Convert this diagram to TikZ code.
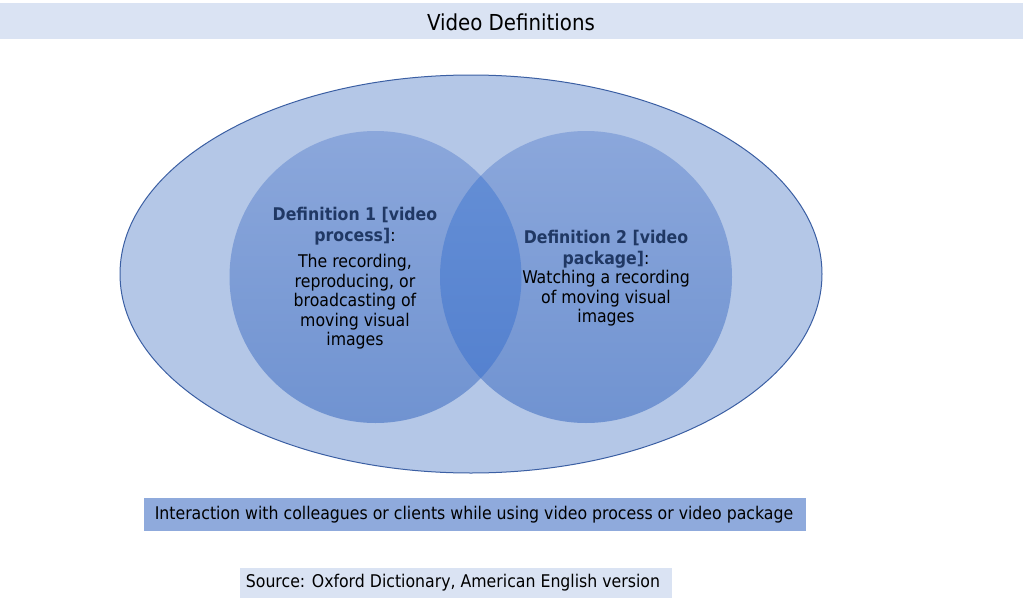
\documentclass[tikz,border=0pt]{standalone}
\usepackage{fontspec}
\setmainfont{DejaVu Sans Condensed}
\usetikzlibrary{shapes.geometric}
\definecolor{barlight}{HTML}{DAE3F3}
\definecolor{barmid}{HTML}{8FAADC}
\definecolor{ellfill}{HTML}{B4C7E7}
\definecolor{elldraw}{HTML}{3B5FA3}
\definecolor{circtop}{HTML}{8BA7DB}
\definecolor{circbot}{HTML}{7093D1}
\definecolor{ovtop}{HTML}{6690D6}
\definecolor{ovbot}{HTML}{527FCE}
\definecolor{defblue}{HTML}{203864}
\tikzset{
  circtext/.style={align=center, font=\fontsize{17.5}{19.5}\selectfont, text=black, inner sep=0pt},
  boxtext/.style={font=\fontsize{17.5}{20}\selectfont, inner sep=0pt, text=black}
}
\begin{document}
\begin{tikzpicture}[x=1pt,y=-1pt]
\useasboundingbox (0,0) rectangle (1023,605);
% title bar
\fill[barlight] (0,3) rectangle (1023,39);
\node[font=\fontsize{22}{26}\selectfont] (title) at (511,22) {Video Definitions};
% ellipse
\node[ellipse, fill=ellfill, draw=elldraw, line width=1pt, minimum width=702pt, minimum height=398pt, inner sep=0pt] (ell) at (471,274) {};
% circles
\shade[top color=circtop, bottom color=circbot] (375.5,277) circle[radius=146];
\shade[top color=circtop, bottom color=circbot] (586,277) circle[radius=146];
\begin{scope}
\clip (375.5,277) circle[radius=146];
\shade[top color=ovtop, bottom color=ovbot] (586,277) circle[radius=146];
\end{scope}
% texts
\node[circtext] (def1) at (355,278) {\textbf{\color{defblue}Definition 1 [video}\\[1.5pt]\textbf{\color{defblue}process]}:\\[7pt]The recording,\\reproducing, or\\broadcasting of\\moving visual\\images};
\node[circtext] (def2) at (606,278) {\textbf{\color{defblue}Definition 2 [video}\\[1.5pt]\textbf{\color{defblue}package]}:\\Watching a recording\\of moving visual\\images};
% bottom boxes
\fill[barmid] (144,498) rectangle (806,531);
\node[boxtext] (inter) at (474,514.5) {Interaction with colleagues or clients while using video process or video package};
\fill[barlight] (240,568) rectangle (672,598);
\node[boxtext] (src) at (453,583) {Source: Oxford Dictionary, American English version};
\end{tikzpicture}
\end{document}
